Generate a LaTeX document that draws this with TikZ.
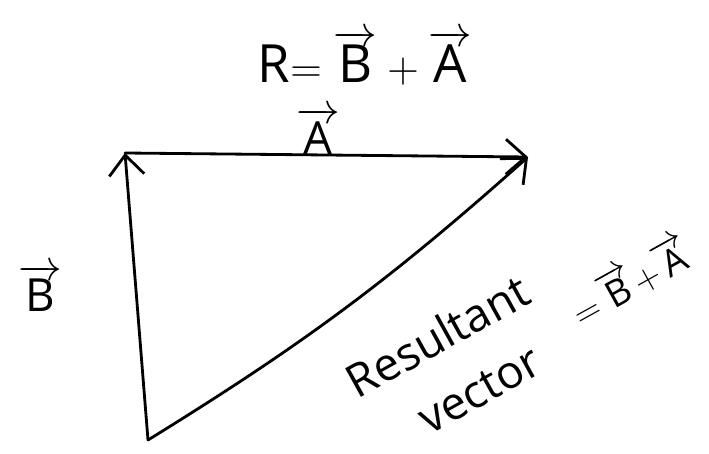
\documentclass[tikz,border=0pt]{standalone}
\usepackage{fontspec}
\setmainfont{Open Sans}
\usetikzlibrary{arrows.meta}
\begin{document}
\begin{tikzpicture}[
		every node/.style={inner sep=0pt},
		vec edge/.style={line width=1.6pt, -{Straight Barb[length=4mm,width=7mm,line width=1.6pt]}},
		big label/.style={font=\fontsize{30}{32}\selectfont},
		mid label/.style={font=\fontsize{26}{28}\selectfont},
		small label/.style={font=\fontsize{21}{23}\selectfont},
		line cap=round,
		line join=round
		]
		\useasboundingbox (0,0) rectangle (14.18,9.06);
		
		% ---- vertices ----
		\coordinate (o) at (2.96, 0.26);
		\coordinate (p) at (2.50, 6.00);
		\coordinate (q) at (10.56, 5.92);
		
		% ---- vectors ----
		\draw[vec edge] (o)--(p);
		\draw[vec edge] (p)--(q);
		\draw[vec edge] (o) to[bend right=5] (q);
		
		% ---- labels ----
		\node[big label] (eq) at (7.30, 7.90) {R$=\overrightarrow{\mathrm{B}}+\overrightarrow{\mathrm{A}}$};
		\node[mid label] (la) at (6.36, 6.45) {$\overrightarrow{\mathrm{A}}$};
		\node[mid label] (lb) at (0.80, 3.30) {$\overrightarrow{\mathrm{B}}$};
		\node[mid label, rotate=29] (res) at (8.75, 2.35) {Resultant};
		\node[mid label, rotate=29] (vec) at (9.60, 1.25) {vector};
		\node[small label, rotate=29] (sum) at (12.60, 3.45) {${=}\,\overrightarrow{\mathrm{B}}{+}\overrightarrow{\mathrm{A}}$};
	\end{tikzpicture}
\end{document}
